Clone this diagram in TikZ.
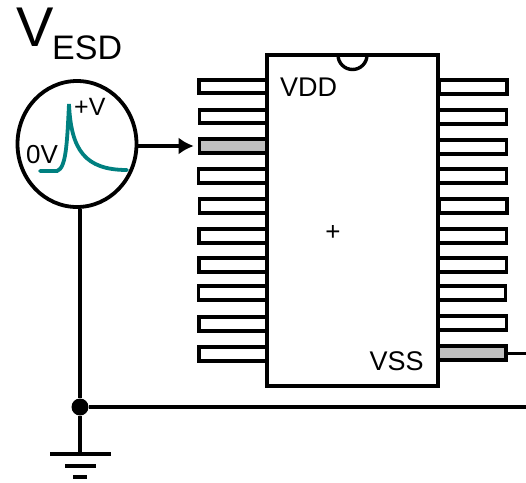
\documentclass[tikz,border=0pt]{standalone}
\usepackage{fontspec}
\setmainfont{Liberation Sans}
\usetikzlibrary{shapes.geometric,arrows.meta}

\definecolor{pulse}{RGB}{0,128,128}
\definecolor{hitpin}{RGB}{191,191,191}
\tikzset{
  pin/.style={draw=black,fill=white,line width=3.6pt,rectangle,inner sep=0pt,minimum width=68pt,minimum height=13.5pt},
  hot/.style={pin,fill=hitpin},
  wire/.style={draw=black,line width=4pt},
  gndbar/.style={fill=black,rectangle,inner sep=0pt,minimum height=4pt},
  lbl/.style={inner sep=0pt,anchor=base west},
}

\begin{document}
\begin{tikzpicture}[x=1pt,y=-1pt]
  \useasboundingbox (0,0) rectangle (526,482);

  \node[pin](l1)  at (233,86.5) {};
  \node[pin](l2)  at (233.5,116.5) {};
  \node[hot](l3)  at (233.5,146) {};
  \node[pin](l4)  at (232.5,176) {};
  \node[pin](l5)  at (233.5,206) {};
  \node[pin](l6)  at (233,236) {};
  \node[pin](l7)  at (233,265) {};
  \node[pin](l8)  at (232.5,293) {};
  \node[pin](l9)  at (233,324) {};
  \node[pin](l10) at (233,354) {};

  \node[pin](r1)  at (473,87) {};
  \node[pin](r2)  at (472.5,117) {};
  \node[pin](r3)  at (472.5,147) {};
  \node[pin](r4)  at (472.5,176) {};
  \node[pin](r5)  at (473,206) {};
  \node[pin](r6)  at (472.5,236) {};
  \node[pin](r7)  at (472.5,265) {};
  \node[pin](r8)  at (471.5,293) {};
  \node[pin](r9)  at (472.5,323) {};
  \node[hot](r10) at (472,353) {};

  % package outline and notch
  \node[draw=black,fill=white,line width=3.4pt,rectangle,inner sep=0pt,minimum width=171pt,minimum height=331pt](chip) at (352.5,220.5) {};
  \coordinate (notch) at (338,55);
  \draw[line width=3.4pt] (notch) arc[start angle=180,end angle=360,radius=14.5pt,y=-1pt];

  \node[lbl,font=\fontsize{27}{27}\selectfont](vdd) at (280,96) {VDD};
  \node[lbl,font=\fontsize{27}{27}\selectfont](vss) at (369.5,370) {VSS};
  \node[font=\fontsize{26}{26}\selectfont,inner sep=0pt](mid) at (333,233) {+};

  \node[lbl,font=\fontsize{56}{56}\selectfont](vee) at (16,46) {V};
  \node[lbl,font=\fontsize{34}{34}\selectfont](esd) at (52,59) {ESD};

  \node[draw=black,fill=white,line width=3.8pt,ellipse,inner sep=0pt,minimum width=119pt,minimum height=126pt](src) at (77,144) {};
  \node[lbl,font=\fontsize{25}{25}\selectfont](plus) at (74,115.5) {+V};
  \node[lbl,font=\fontsize{26}{26}\selectfont](zero) at (26,163.5) {0V};
  \draw[pulse,line width=3.8pt,line cap=round] (40,171) -- (57,171) .. controls (66,168) and (67,145) .. (69,104) .. controls (71,150) and (85,170) .. (127,170);

  \coordinate (tail) at (526,407);
  \coordinate (vssend) at (526,353);
  \node[circle,fill=black,inner sep=0pt,minimum size=17pt](dot) at (80,407) {};
  \node[gndbar,minimum width=61pt](g1) at (80,454) {};
  \node[gndbar,minimum width=31pt](g2) at (80.5,466) {};
  \node[gndbar,minimum width=14pt](g3) at (80,477) {};

  \draw[wire,-{Latex[length=15pt,width=17pt]}] (src.east |- l3.west) -- ([xshift=-4pt]l3.west);
  \draw[wire] (src.south -| dot) -- (dot);
  \draw[wire] (dot) -- (g1);
  \draw[wire] (dot) -- (tail);
  \draw[line width=3pt] (r10.east) -- (vssend);
\end{tikzpicture}
\end{document}
